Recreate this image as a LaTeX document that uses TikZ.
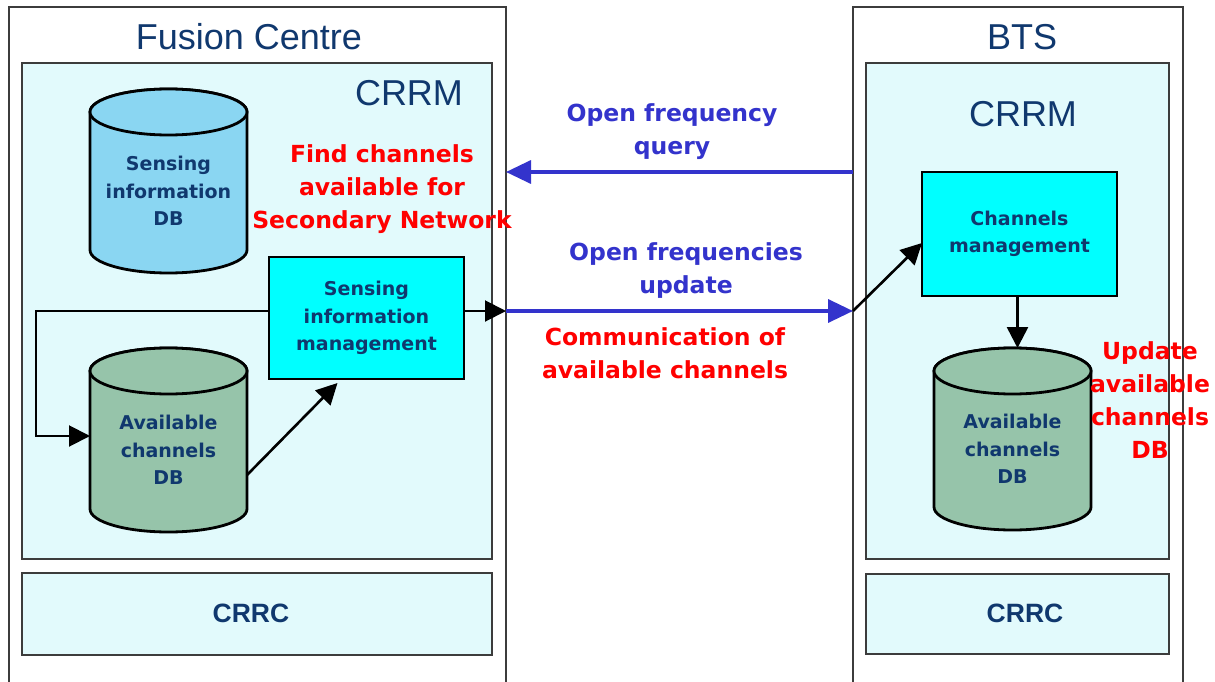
\documentclass[tikz,border=0pt]{standalone}
\usepackage{fontspec}
\setmainfont{Liberation Sans}
\newfontfamily\labelfont{DejaVu Sans}
\usetikzlibrary{arrows.meta,calc}

\definecolor{navy}{RGB}{16,56,110}
\definecolor{boxline}{RGB}{60,60,60}
\definecolor{crrmfill}{RGB}{226,250,252}
\definecolor{mgmtfill}{RGB}{0,255,255}
\definecolor{sensefill}{RGB}{138,214,242}
\definecolor{chanfill}{RGB}{150,196,170}
\definecolor{msgblue}{RGB}{51,51,204}
\definecolor{notered}{RGB}{255,0,0}

\tikzset{
  x=1pt, y=1pt,
  region/.style={draw=boxline, line width=1.3pt, inner sep=0pt, outer sep=0pt, anchor=north west},
  title/.style={font=\fontsize{36}{40}\selectfont, text=navy, inner sep=0pt},
  crrc/.style={font=\bfseries\fontsize{26.5}{30}\selectfont, text=navy, inner sep=0pt},
  lbl/.style={font=\labelfont\bfseries\fontsize{19}{27.5}\selectfont, text=navy, align=center, inner sep=0pt},
  note/.style={font=\labelfont\bfseries\fontsize{23.5}{33}\selectfont, text=notered, align=center, inner sep=0pt},
  msg/.style={font=\labelfont\bfseries\fontsize{23.5}{33}\selectfont, text=msgblue, align=center, inner sep=0pt},
  dbline/.style={draw=black, line width=2.8pt},
  flow/.style={draw=black, line width=2.6pt, -{Triangle[length=21pt,width=21pt]}},
  thinflow/.style={draw=black, line width=2pt, -{Triangle[length=21pt,width=21pt]}},
  bluflow/.style={draw=msgblue, line width=3.5pt, -{Triangle[length=25pt,width=23pt]}},
}

% rectangular region given by its pixel corners (x1,y1) (x2,y2)
\newcommand\regionbox[6]{%
  \node[region, #6, minimum width={#4-#2}, minimum height={#5-#3}] (#1) at (#2,-#3) {};}

% database cylinder: name, left, right, top, bottom, fill, text
\newcommand\drawdb[7]{%
  \pgfmathsetmacro\dbrx{(#3-#2)/2}%
  \pgfmathsetmacro\dbcx{(#3+#2)/2}%
  \def\dbry{23}%
  \draw[dbline, fill=#6] (#2,-#4-\dbry) -- (#2,-#5+\dbry)
     arc[start angle=180, end angle=360, x radius=\dbrx, y radius=\dbry]
     -- (#3,-#4-\dbry)
     arc[start angle=0, end angle=180, x radius=\dbrx, y radius=\dbry] -- cycle;
  \draw[dbline, fill=#6] (\dbcx,-#4-\dbry) ellipse[x radius=\dbrx, y radius=\dbry];
  \node[inner sep=0pt, outer sep=0pt, minimum width={#3-#2}, minimum height={#5-#4}] (#1) at (\dbcx,{-(#4+#5)/2}) {};
  \node[lbl] (#1-txt) at (\dbcx,{-(#4+#5)/2-10}) {#7};
}

\begin{document}
\begin{tikzpicture}
\useasboundingbox (0,0) rectangle (1215,-682);
\fill[white] (0,0) rectangle (1215,-682);
\begin{scope}
\clip (0,0) rectangle (1215,-682);

% ---------------- Fusion Centre ----------------
\regionbox{fus}{9}{7}{506}{700}{fill=white}
\regionbox{fcrrm}{22}{63}{492}{559}{fill=crrmfill}
\regionbox{fcrrc}{22}{573}{492}{655}{fill=crrmfill}
\node[title] (fustitle) at (249,-37) {Fusion Centre};
\node[title] (fcrrmtitle) at (409,-93) {CRRM};
\node[crrc] (fcrrctxt) at (251,-613) {CRRC};

\drawdb{sdb}{90}{247}{89}{273}{sensefill}{Sensing\\information\\DB}
\drawdb{adb}{90}{247}{348}{532}{chanfill}{Available\\channels\\DB}

\regionbox{sim}{269}{257}{464}{379}{fill=mgmtfill, draw=black}
\node[lbl] (simtxt) at (sim.center) {Sensing\\information\\management};

\node[note] (findnote) at (382,-189) {Find channels\\available for\\Secondary Network};

% ---------------- BTS ----------------
\regionbox{bts}{853}{7}{1183}{700}{fill=white}
\regionbox{bcrrm}{866}{63}{1169}{559}{fill=crrmfill}
\regionbox{bcrrc}{866}{574}{1169}{654}{fill=crrmfill}
\node[title] (btstitle) at (1022,-37) {BTS};
\node[title] (bcrrmtitle) at (1023,-114) {CRRM};
\node[crrc] (bcrrctxt) at (1025,-613) {CRRC};

\regionbox{cm}{922}{172}{1117}{296}{fill=mgmtfill, draw=black}
\node[lbl] (cmtxt) at (cm.center) {Channels\\management};

\drawdb{bdb}{934}{1091}{348}{530}{chanfill}{Available\\channels\\DB}

\node[note] (updnote) at (1150,-400) {Update\\available\\channels\\DB};

% ---------------- messages between the sites ----------------
\coordinate (qsrc) at (853,-172);
\coordinate (qdst) at (506,-172);
\coordinate (hubf) at (506,-311);
\coordinate (hubb) at (853,-311);

\draw[bluflow] (qsrc) -- (qdst);
\node[msg] (querytxt) at (672,-132) {Open frequency\\query};

\draw[bluflow] (hubf) -- (hubb);
\node[msg] (updtxt) at (686,-271) {Open frequencies\\update};
\node[note] (commnote) at (665,-353) {Communication of\\available channels};

% ---------------- internal flows ----------------
\draw[thinflow] ([yshift=7pt]sim.east) -- (hubf);
\draw[thinflow] ([yshift=7pt]sim.west) -- ++(-233,0) |- ([yshift=4pt]adb.west);
\draw[flow] ([yshift=-35pt]adb.east) -- ([shift={(-29pt,-4pt)}]sim.south);
\draw[flow] (hubb) -- ([yshift=-9pt]cm.west);
\draw[flow] ([xshift=-2pt]cm.south) -- ([xshift=-2pt]cm.south |- bdb.north);
\end{scope}
\end{tikzpicture}
\end{document}
